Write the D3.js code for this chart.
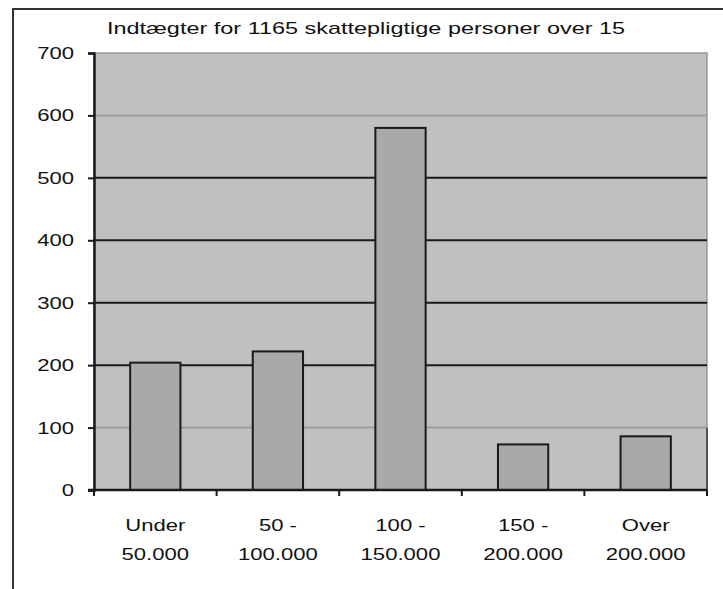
<!DOCTYPE html>
<html lang="da">
<head>
<meta charset="UTF-8">
<title>Indtægter</title>
<script src="https://d3js.org/d3.v7.min.js"></script>
<style>
    body { margin: 0; background: #fff; }
    svg { display: block; font-family: "Liberation Sans", Arial, sans-serif; }
</style>
</head>
<body>
<script>
    const categories = ["Under|50.000", "50 -|100.000", "100 -|150.000", "150 -|200.000", "Over|200.000"];
    const counts = [204, 222, 580, 73, 86];
    const yTicks = [0, 100, 200, 300, 400, 500, 600, 700];
    const darkLines = [200, 300, 400, 500];
    const title = "Indtægter for 1165 skattepligtige personer over 15";

    const width = 723, height = 589;
    const plot = { left: 94, right: 707, top: 53, bottom: 490 };
    const stretch = 1.3; // text in the original is wide

    const svg = d3.select("body").append("svg")
        .attr("width", width)
        .attr("height", height);

    // outer frame
    svg.append("rect")
        .attr("x", 13).attr("y", 9)
        .attr("width", 730).attr("height", 600)
        .attr("fill", "#fff")
        .attr("stroke", "#333")
        .attr("stroke-width", 2);

    svg.append("text")
        .attr("transform", `translate(366,34) scale(1.38,1)`)
        .attr("text-anchor", "middle")
        .attr("font-size", 17)
        .attr("fill", "#111")
        .text(title);

    const x = d3.scaleBand()
        .domain(categories)
        .range([plot.left, plot.right])
        .paddingInner(0.59)
        .paddingOuter(0.295);

    const y = d3.scaleLinear()
        .domain([0, 700])
        .range([plot.bottom, plot.top]);

    // plot background
    svg.append("rect")
        .attr("x", plot.left).attr("y", plot.top)
        .attr("width", plot.right - plot.left)
        .attr("height", plot.bottom - plot.top)
        .attr("fill", "#c0c0c0")
        .attr("stroke", "#9a9a9a")
        .attr("stroke-width", 1.5);

    svg.append("line")
        .attr("x1", plot.right).attr("x2", plot.right)
        .attr("y1", y(100)).attr("y2", plot.bottom)
        .attr("stroke", "#333").attr("stroke-width", 1.5);

    // grid lines
    svg.append("g")
        .selectAll("line")
        .data(yTicks.filter(d => d > 0 && d < 700))
        .join("line")
        .attr("x1", plot.left).attr("x2", plot.right)
        .attr("y1", d => y(d)).attr("y2", d => y(d))
        .attr("stroke", d => darkLines.includes(d) ? "#1a1a1a" : "#9c9c9c")
        .attr("stroke-width", 2);

    // bars
    svg.append("g")
        .selectAll("rect")
        .data(counts)
        .join("rect")
        .attr("x", (d, i) => x(categories[i]))
        .attr("y", d => y(d))
        .attr("width", x.bandwidth())
        .attr("height", d => y(0) - y(d))
        .attr("fill", "#a9a9a9")
        .attr("stroke", "#1a1a1a")
        .attr("stroke-width", 2);

    // y axis
    const yAxis = svg.append("g")
        .attr("transform", `translate(${plot.left},0)`)
        .call(d3.axisLeft(y).tickValues(yTicks).tickSize(6));
    yAxis.select(".domain").attr("stroke", "#1a1a1a").attr("stroke-width", 2.5);
    yAxis.selectAll(".tick line").attr("stroke", "#1a1a1a").attr("stroke-width", 2);
    yAxis.selectAll(".tick text")
        .attr("font-size", 17)
        .attr("font-family", "Liberation Sans, Arial, sans-serif")
        .attr("fill", "#111")
        .attr("x", -20 / stretch)
        .attr("transform", `scale(${stretch},1)`);

    // x axis with ticks between categories
    const xAxis = svg.append("g")
        .attr("transform", `translate(0,${plot.bottom})`);
    xAxis.append("line")
        .attr("x1", plot.left - 6).attr("x2", plot.right)
        .attr("stroke", "#1a1a1a").attr("stroke-width", 2.5);
    const edges = categories.map(c => x(c) - x.step() * x.paddingInner() / 2)
        .concat([plot.right]);
    xAxis.selectAll(".sep")
        .data(edges)
        .join("line")
        .attr("x1", d => d).attr("x2", d => d)
        .attr("y1", 0).attr("y2", 6)
        .attr("stroke", "#1a1a1a").attr("stroke-width", 2);

    const labels = xAxis.selectAll(".lbl")
        .data(categories)
        .join("text")
        .attr("text-anchor", "middle")
        .attr("font-size", 17)
        .attr("fill", "#111")
        .attr("transform", d => `translate(${x(d) + x.bandwidth() / 2},0) scale(${stretch},1)`);
    labels.append("tspan").attr("x", 0).attr("y", 41).text(d => d.split("|")[0]);
    labels.append("tspan").attr("x", 0).attr("y", 70).text(d => d.split("|")[1]);
</script>
</body>
</html>
